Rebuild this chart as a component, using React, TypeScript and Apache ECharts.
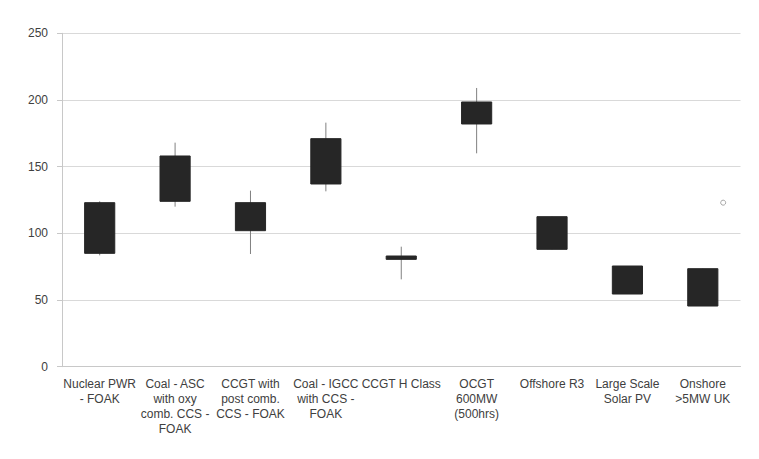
import React, { useEffect, useRef } from "react";
import * as echarts from "echarts";

const categories = [
  "Nuclear PWR\n- FOAK",
  "Coal - ASC\nwith oxy\ncomb. CCS -\nFOAK",
  "CCGT with\npost comb.\nCCS - FOAK",
  "Coal - IGCC\nwith CCS -\nFOAK",
  "CCGT H Class",
  "OCGT\n600MW\n(500hrs)",
  "Offshore R3",
  "Large Scale\nSolar PV",
  "Onshore\n>5MW UK",
];
const boxBottom = [85, 124, 102, 137, 80.5, 182, 88, 54.5, 45.5];
const boxTop = [123, 158, 123, 171, 83, 198.5, 112.5, 75.5, 73.5];
const whiskerLow = [83.5, 120, 84.5, 131.5, 65.5, 160, 88, 54.5, 45.5];
const whiskerHigh = [124, 168, 132, 183, 90, 209, 112.5, 75.5, 73.5];
const outlier: [number, number] = [8.77, 123];
const yTicks = { min: 0, max: 250, interval: 50 };

export default function App() {
  const ref = useRef<HTMLDivElement>(null);
  useEffect(() => {
    document.body.style.margin = "0";
    const chart = echarts.init(ref.current!, null, { renderer: "svg" });
    const data = categories.map((_, i) => [
      i,
      boxBottom[i],
      boxTop[i],
      whiskerLow[i],
      whiskerHigh[i],
    ]);
    const font = "'Liberation Sans', Arial, sans-serif";
    chart.setOption({
      animation: false,
      grid: { left: 62, right: 18.5, top: 33.3, bottom: 92.3 },
      xAxis: [
        {
          type: "category",
          data: categories,
          axisLine: { lineStyle: { color: "#c8c8c8" } },
          axisTick: { length: 5, lineStyle: { color: "#c8c8c8" } },
          axisLabel: {
            interval: 0,
            margin: 10,
            color: "#404040",
            fontSize: 12,
            lineHeight: 15,
            fontFamily: font,
            align: "center",
          },
          splitLine: { show: false },
        },
        {
          type: "value",
          min: 0,
          max: 9,
          show: false,
        },
      ],
      yAxis: {
        type: "value",
        min: yTicks.min,
        max: yTicks.max,
        interval: yTicks.interval,
        axisLine: { show: true, lineStyle: { color: "#c8c8c8" } },
        axisTick: { show: true, length: 5, lineStyle: { color: "#c8c8c8" } },
        axisLabel: {
          margin: 14,
          color: "#404040",
          fontSize: 12,
          fontFamily: font,
        },
        splitLine: { lineStyle: { color: "#d9d9d9" } },
      },
      series: [
        {
          type: "custom",
          xAxisIndex: 0,
          data,
          renderItem: (params: any, api: any) => {
            const x = api.value(0);
            const q1 = api.coord([x, api.value(1)]);
            const q3 = api.coord([x, api.value(2)]);
            const lo = api.coord([x, api.value(3)]);
            const hi = api.coord([x, api.value(4)]);
            const w = api.size([1, 0])[0] * 0.4;
            return {
              type: "group",
              children: [
                {
                  type: "line",
                  shape: { x1: hi[0], y1: hi[1], x2: lo[0], y2: lo[1] },
                  style: { stroke: "#808080", lineWidth: 1 },
                },
                {
                  type: "rect",
                  shape: {
                    x: q3[0] - w / 2,
                    y: q3[1],
                    width: w,
                    height: q1[1] - q3[1],
                  },
                  style: { fill: "#262626", stroke: "#262626", lineWidth: 1 },
                },
              ],
            };
          },
        },
        {
          type: "scatter",
          xAxisIndex: 1,
          data: [outlier],
          symbol: "circle",
          symbolSize: 5,
          itemStyle: { color: "#ffffff", borderColor: "#909090", borderWidth: 1 },
        },
      ],
    });
    return () => chart.dispose();
  }, []);
  return <div ref={ref} style={{ width: 759, height: 459 }} />;
}
